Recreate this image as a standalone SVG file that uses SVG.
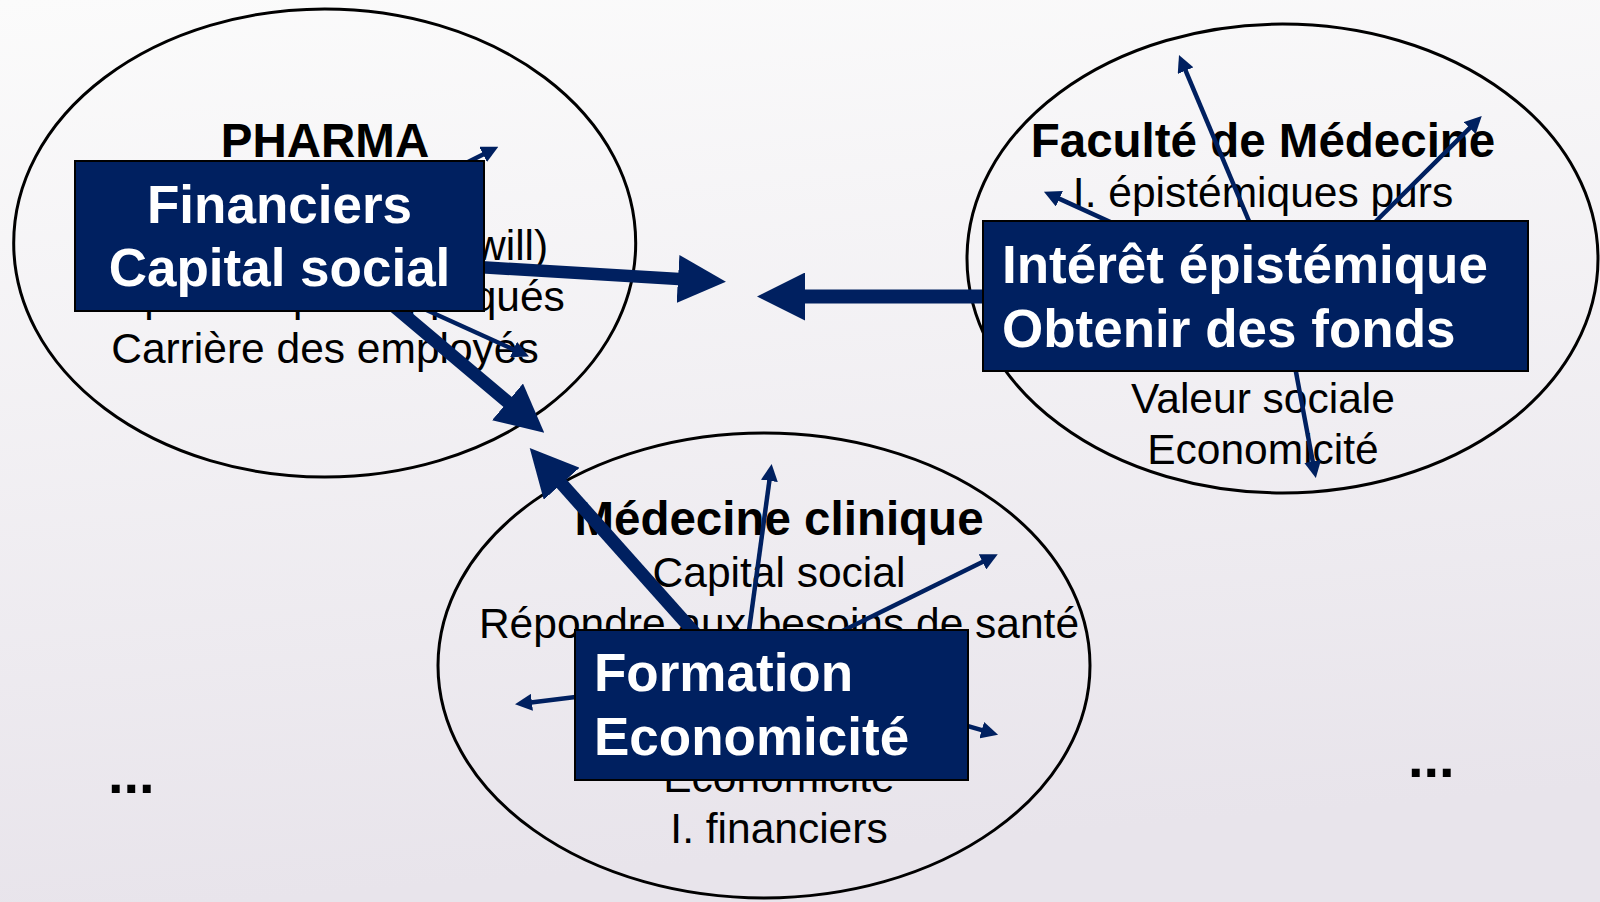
<svg xmlns="http://www.w3.org/2000/svg" width="1600" height="902" viewBox="0 0 1600 902">
<defs>
<linearGradient id="bg" x1="0" y1="0" x2="0.15" y2="1">
<stop offset="0" stop-color="#fbfbfb"/>
<stop offset="1" stop-color="#e8e4eb"/>
</linearGradient>
<marker id="ahThin" markerUnits="userSpaceOnUse" markerWidth="17" markerHeight="17" viewBox="0 0 17 17" refX="1" refY="8.5" orient="auto">
<path d="M0,0 L17,8.5 L0,17 z" fill="#002060"/>
</marker>
<marker id="ahThick" markerUnits="userSpaceOnUse" markerWidth="48" markerHeight="48" viewBox="0 0 48 48" refX="1" refY="24" orient="auto">
<path d="M0,0 L48,24 L0,48 z" fill="#002060"/>
</marker>
</defs>
<style>
.ell{fill:none;stroke:#000;stroke-width:3}
.title{font-family:"Liberation Sans",Arial,sans-serif;font-weight:bold;font-size:47.5px;fill:#000;text-anchor:middle}
.item{font-family:"Liberation Sans",Arial,sans-serif;font-size:42.5px;fill:#000;text-anchor:middle}
.box{fill:#002060;stroke:#000;stroke-width:2}
.boxt{font-family:"Liberation Sans",Arial,sans-serif;font-weight:bold;font-size:53px;fill:#fff}
.thin{stroke:#002060;stroke-width:4.5;fill:none;marker-end:url(#ahThin)}
.thick{stroke:#002060;stroke-width:13;fill:none;marker-end:url(#ahThick)}
.dots{font-family:"Liberation Sans",Arial,sans-serif;font-weight:bold;font-size:56px;fill:#000}
</style>
<rect x="0" y="0" width="1600" height="902" fill="url(#bg)"/>

<g id="pharma">
<ellipse class="ell" cx="324.7" cy="243" rx="311" ry="234"/>
<text class="title" x="325" y="157">PHARMA</text>
<text class="item" x="325" y="260">Capital social (goodwill)</text>
<text class="item" x="325" y="311">I. épistémiques appliqués</text>
<text class="item" x="325" y="363">Carrière des employés</text>
</g>

<g id="faculte">
<ellipse class="ell" cx="1282.5" cy="258.5" rx="315.5" ry="234.5"/>
<text class="title" x="1263" y="157">Faculté de Médecine</text>
<text class="item" x="1263" y="207">I. épistémiques purs</text>
<text class="item" x="1263" y="413">Valeur sociale</text>
<text class="item" x="1263" y="464">Economicité</text>
</g>

<g id="medecine">
<ellipse class="ell" cx="764" cy="665.5" rx="326" ry="232.5"/>
<text class="title" x="779" y="535">Médecine clinique</text>
<text class="item" x="779" y="587">Capital social</text>
<text class="item" x="779" y="638">Répondre aux besoins de santé</text>
<text class="item" x="779" y="792">Economicité</text>
<text class="item" x="779" y="843">I. financiers</text>
</g>

<g id="connectors">
<line class="thin" x1="420" y1="186" x2="484" y2="154"/>
<line class="thin" x1="400" y1="298" x2="514.4" y2="349.9"/>
<line class="thick" style="stroke-width:12.5" x1="470" y1="266.5" x2="679" y2="279"/>
<line class="thick" style="stroke-width:14" x1="1000" y1="296.5" x2="804" y2="296.5"/>
<line class="thick" x1="370" y1="286" x2="508.3" y2="402.5"/>
<line class="thick" x1="710" y1="650" x2="561" y2="483"/>
<line class="thin" x1="745" y1="660" x2="769.5" y2="479.9"/>
<line class="thin" x1="820" y1="642" x2="983.4" y2="561.4"/>
<line class="thin" x1="600" y1="694" x2="530.9" y2="702.4"/>
<line class="thin" x1="940" y1="718" x2="982.7" y2="730.4"/>
<line class="thin" x1="1262" y1="252" x2="1185.2" y2="69.7"/>
<line class="thin" x1="1350" y1="247" x2="1470.4" y2="127.3"/>
<line class="thin" x1="1130" y1="231" x2="1058.5" y2="198.4"/>
<line class="thin" x1="1290" y1="340" x2="1312.9" y2="462.3"/>
</g>

<g id="box-pharma">
<rect class="box" x="75" y="161" width="409" height="150"/>
<text class="boxt" x="279.5" y="222.5" text-anchor="middle">Financiers</text>
<text class="boxt" x="279.5" y="286" text-anchor="middle">Capital social</text>
</g>

<g id="box-faculte">
<rect class="box" x="983" y="221" width="545" height="150"/>
<text class="boxt" x="1002" y="282.7">Intérêt épistémique</text>
<text class="boxt" x="1002" y="346.7">Obtenir des fonds</text>
</g>

<g id="box-medecine">
<rect class="box" x="575" y="630" width="393" height="150"/>
<text class="boxt" x="594" y="691">Formation</text>
<text class="boxt" x="594" y="755">Economicité</text>
</g>

<g id="ellipsis-left"><text class="dots" x="108" y="793">...</text></g>
<g id="ellipsis-right"><text class="dots" x="1408" y="777">...</text></g>
</svg>
